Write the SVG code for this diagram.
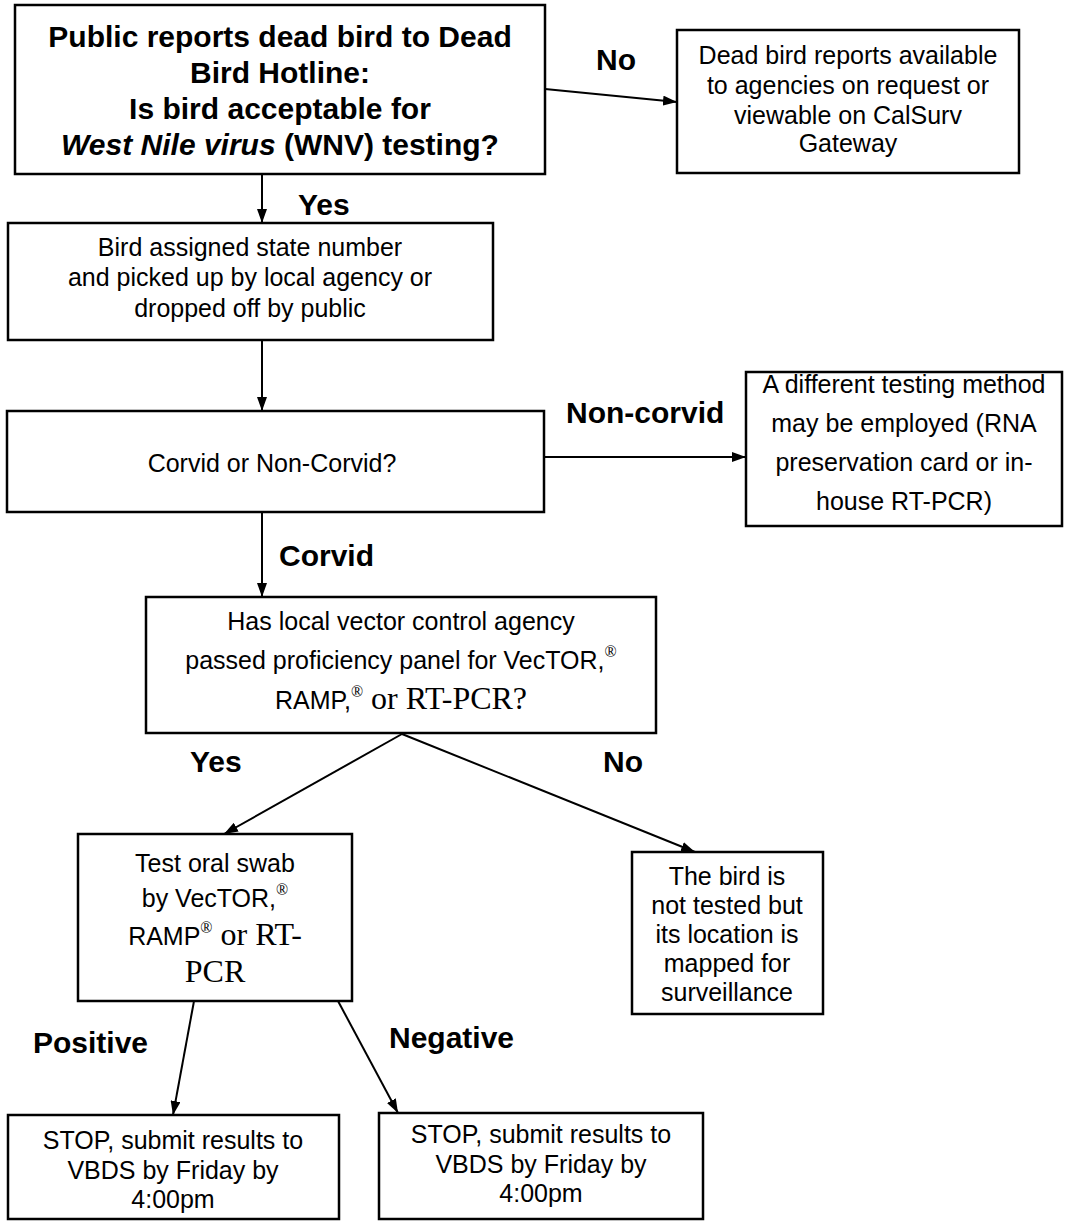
<svg xmlns="http://www.w3.org/2000/svg" width="1066" height="1222" viewBox="0 0 1066 1222">
<defs>
<marker id="ah" viewBox="0 0 14 10" refX="14" refY="5" markerWidth="14" markerHeight="10" markerUnits="userSpaceOnUse" orient="auto">
<path d="M0,0 L14,5 L0,10 z" fill="#000"/>
</marker>
<style>
.box{fill:#fff;stroke:#000;stroke-width:2.5}
.t{font-family:"Liberation Sans",Arial,sans-serif;font-size:25px;fill:#000;text-anchor:middle}
.tb{font-family:"Liberation Sans",Arial,sans-serif;font-size:30px;font-weight:bold;fill:#000;text-anchor:middle}
.lb{font-family:"Liberation Sans",Arial,sans-serif;font-size:30px;font-weight:bold;fill:#000}
.tm{font-family:"Liberation Serif","Times New Roman",serif;font-size:32px}
.reg{font-family:"Liberation Serif","Times New Roman",serif;font-size:16px}
.conn{stroke:#000;stroke-width:2;fill:none;marker-end:url(#ah)}
</style>
</defs>
<rect width="1066" height="1222" fill="#fff"/>

<g id="connectors">
<line class="conn" x1="545" y1="89" x2="677" y2="102"/>
<line class="conn" x1="262" y1="174" x2="262" y2="223"/>
<line class="conn" x1="262" y1="340" x2="262" y2="411"/>
<line class="conn" x1="544" y1="457" x2="746" y2="457"/>
<line class="conn" x1="262" y1="512" x2="262" y2="597"/>
<line class="conn" x1="402" y1="734" x2="224" y2="834"/>
<line class="conn" x1="402" y1="734" x2="695" y2="852"/>
<line class="conn" x1="194" y1="1001" x2="173" y2="1115"/>
<line class="conn" x1="338" y1="1001" x2="398" y2="1113"/>
</g>

<g id="labels">
<text class="lb" x="596" y="70">No</text>
<text class="lb" x="298" y="215">Yes</text>
<text class="lb" x="566" y="423">Non-corvid</text>
<text class="lb" x="279" y="566">Corvid</text>
<text class="lb" x="190" y="772">Yes</text>
<text class="lb" x="603" y="772">No</text>
<text class="lb" x="33" y="1053">Positive</text>
<text class="lb" x="389" y="1048">Negative</text>
</g>

<g id="n1">
<rect class="box" x="15" y="5" width="530" height="169"/>
<text class="tb" x="280" y="47">Public reports dead bird to Dead</text>
<text class="tb" x="280" y="83">Bird Hotline:</text>
<text class="tb" x="280" y="119">Is bird acceptable for</text>
<text class="tb" x="280" y="155"><tspan font-style="italic">West Nile virus</tspan> (WNV) testing?</text>
</g>

<g id="n2">
<rect class="box" x="677" y="30" width="342" height="143"/>
<text class="t" x="848" y="64">Dead bird reports available</text>
<text class="t" x="848" y="94">to agencies on request or</text>
<text class="t" x="848" y="124">viewable on CalSurv</text>
<text class="t" x="848" y="152">Gateway</text>
</g>

<g id="n3">
<rect class="box" x="8" y="223" width="485" height="117"/>
<text class="t" x="250" y="256" font-size="26">Bird assigned state number</text>
<text class="t" x="250" y="286" font-size="26">and picked up by local agency or</text>
<text class="t" x="250" y="317" font-size="26">dropped off by public</text>
</g>

<g id="n4">
<rect class="box" x="7" y="411" width="537" height="101"/>
<text class="t" x="272" y="472">Corvid or Non-Corvid?</text>
</g>

<g id="n5">
<rect class="box" x="746" y="372" width="316" height="154"/>
<text class="t" x="904" y="393">A different testing method</text>
<text class="t" x="904" y="432">may be employed (RNA</text>
<text class="t" x="904" y="471">preservation card or in-</text>
<text class="t" x="904" y="510">house RT-PCR)</text>
</g>

<g id="n6">
<rect class="box" x="146" y="597" width="510" height="136"/>
<text class="t" x="401" y="630">Has local vector control agency</text>
<text class="t" x="401" y="669">passed proficiency panel for VecTOR,<tspan class="reg" dy="-12">®</tspan></text>
<text class="t" x="401" y="709">RAMP,<tspan class="reg" dy="-12">®</tspan><tspan class="tm" dy="12"> or RT-PCR?</tspan></text>
</g>

<g id="n7">
<rect class="box" x="78" y="834" width="274" height="167"/>
<text class="t" x="215" y="872">Test oral swab</text>
<text class="t" x="215" y="907">by VecTOR,<tspan class="reg" dy="-12">®</tspan></text>
<text class="t" x="215" y="945">RAMP<tspan class="reg" dy="-12">®</tspan><tspan class="tm" dy="12"> or RT-</tspan></text>
<text class="t tm" x="215" y="982">PCR</text>
</g>

<g id="n8">
<rect class="box" x="632" y="852" width="191" height="162"/>
<text class="t" x="727" y="885">The bird is</text>
<text class="t" x="727" y="914">not tested but</text>
<text class="t" x="727" y="943">its location is</text>
<text class="t" x="727" y="972">mapped for</text>
<text class="t" x="727" y="1001">surveillance</text>
</g>

<g id="n9">
<rect class="box" x="8" y="1115" width="331" height="104"/>
<text class="t" x="173" y="1149">STOP, submit results to</text>
<text class="t" x="173" y="1179">VBDS by Friday by</text>
<text class="t" x="173" y="1208">4:00pm</text>
</g>

<g id="n10">
<rect class="box" x="379" y="1113" width="324" height="106"/>
<text class="t" x="541" y="1143">STOP, submit results to</text>
<text class="t" x="541" y="1173">VBDS by Friday by</text>
<text class="t" x="541" y="1202">4:00pm</text>
</g>
</svg>
